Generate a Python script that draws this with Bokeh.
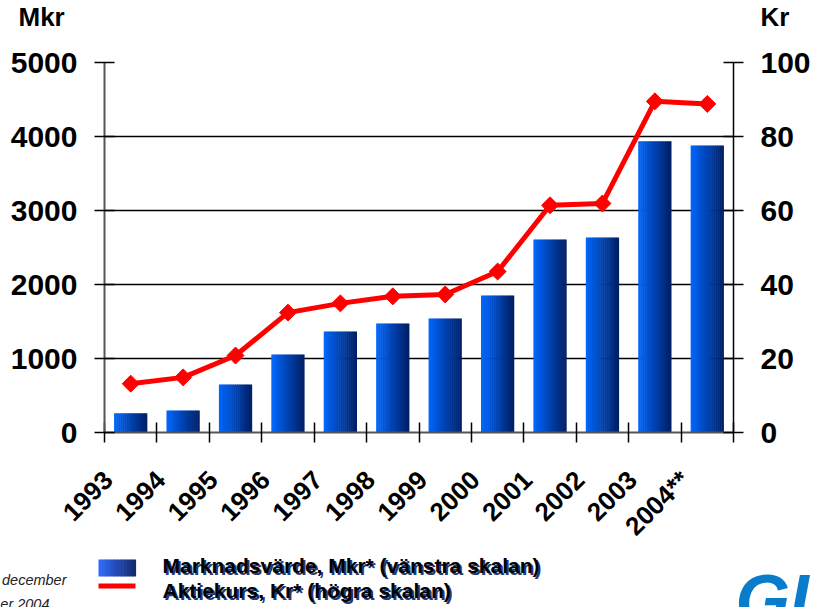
import numpy as np
from bokeh.plotting import figure
from bokeh.layouts import column
from bokeh.models import Range1d, LinearAxis, FixedTicker, CustomJSTickFormatter
from bokeh.core.properties import value
from bokeh.embed import file_html
from bokeh.resources import INLINE

# ---------------- data ----------------
years = ["1993", "1994", "1995", "1996", "1997", "1998", "1999",
         "2000", "2001", "2002", "2003", "2004**"]
market_value_mkr = [261, 297, 649, 1054, 1365, 1473, 1540, 1851, 2608, 2635, 3936, 3878]
share_price_kr = [13.2, 14.9, 20.8, 32.4, 34.9, 36.8, 37.3, 43.5, 61.4, 61.9, 89.5, 88.8]
left_ticks = [0, 1000, 2000, 3000, 4000, 5000]
right_ticks = [0, 20, 40, 60, 80, 100]
left_unit = "Mkr"
right_unit = "Kr"
legend_bar = "Marknadsvärde, Mkr* (vänstra skalan)"
legend_line = "Aktiekurs, Kr* (högra skalan)"
footnote_1 = "december"
footnote_2 = "er 2004"
logo_text = "GU"

FONT = "Liberation Sans"
W = 814
TOP_H = 45          # strip with unit titles
MAIN_H = 509        # chart
BOT_H = 607 - TOP_H - MAIN_H

# frame geometry in page pixels
FR_L, FR_R, FR_T, FR_B = 104, 733, 62, 432


def mid(baseline, size):
    """vertical centre of a text line from its baseline (page pixels)"""
    return baseline - 0.39 * size


def blank(height, y0, y1):
    f = figure(width=W, height=height, x_range=Range1d(0, W), y_range=Range1d(y1, y0),
               output_backend="svg", toolbar_location=None, x_axis_type=None,
               y_axis_type=None, min_border=0, outline_line_color=None,
               background_fill_color="white", border_fill_color="white",
               frame_align=False)
    f.grid.visible = False
    return f


# ---------------- top strip: unit titles ----------------
top = blank(TOP_H, 0, TOP_H)
top.text(x=[18, 760], y=[mid(27, 26)] * 2, text=[left_unit, right_unit],
         text_font=value(FONT), text_font_style="bold", text_font_size="26px",
         text_color="black", text_baseline="middle", text_align="left")

# ---------------- main chart ----------------
p = figure(width=W, height=MAIN_H, x_range=Range1d(0, len(years)), y_range=Range1d(0, 5000),
           output_backend="svg", toolbar_location=None,
           min_border_left=FR_L, min_border_right=W - FR_R,
           min_border_top=FR_T - TOP_H, min_border_bottom=TOP_H + MAIN_H - FR_B,
           outline_line_color=None, background_fill_color="white",
           border_fill_color="white", frame_align=False)
p.extra_y_ranges = {"kr": Range1d(0, 100)}

p.xgrid.visible = False
p.ygrid.ticker = FixedTicker(ticks=left_ticks)
p.ygrid.grid_line_color = "black"
p.ygrid.grid_line_width = 1.5

ya = p.yaxis[0]
ya.ticker = FixedTicker(ticks=left_ticks)
ra = LinearAxis(y_range_name="kr", ticker=FixedTicker(ticks=right_ticks))
p.add_layout(ra, "right")
for ax in (ya, ra):
    ax.major_label_text_font = FONT
    ax.major_label_text_font_style = "bold"
    ax.major_label_text_font_size = "30px"
    ax.major_label_text_color = "black"
    ax.major_tick_in = 10
    ax.major_tick_out = 10
    ax.major_tick_line_color = "black"
    ax.major_tick_line_width = 1.5
    ax.minor_tick_line_color = None
    ax.major_label_standoff = 17
ya.axis_line_color = "#555555"
ya.axis_line_width = 2
ra.axis_line_color = "black"
ra.axis_line_width = 1.5

label_shift = 0.07
xa = p.xaxis[0]
xa.ticker = FixedTicker(ticks=[i + label_shift for i in range(len(years))],
                        minor_ticks=list(range(len(years) + 1)))
xa.formatter = CustomJSTickFormatter(
    args=dict(labels=years),
    code="const i = Math.round(tick); return (i >= 0 && i < labels.length) ? labels[i] : '';")
xa.major_label_orientation = np.pi / 4
xa.major_label_text_font = FONT
xa.major_label_text_font_style = "bold"
xa.major_label_text_font_size = "26px"
xa.major_label_text_color = "black"
xa.major_tick_line_color = None
xa.major_tick_in = 0
xa.major_tick_out = 10
xa.major_label_standoff = 33
xa.minor_tick_in = 10
xa.minor_tick_out = 10
xa.minor_tick_line_color = "black"
xa.minor_tick_line_width = 1.5
xa.axis_line_color = "#555555"
xa.axis_line_width = 2

# bars with a horizontal gradient (drawn as thin strips)
bar_width = 0.625
n_strips = 16
c_left = np.array([0, 104, 255])
c_right = np.array([0, 30, 100])
xs, tops, cols = [], [], []
for k in range(n_strips):
    f = (k + 0.5) / n_strips
    c = (c_left * (1 - f) + c_right * f).astype(int)
    col = "#%02x%02x%02x" % tuple(c)
    for i, v in enumerate(market_value_mkr):
        xs.append(i + 0.5 - bar_width / 2 + (k + 0.5) * bar_width / n_strips)
        tops.append(v)
        cols.append(col)
p.vbar(x=xs, top=tops, bottom=0, width=bar_width / n_strips * 1.25,
       fill_color=cols, line_color=None)

centers = [i + 0.5 for i in range(len(years))]
p.line(x=centers, y=share_price_kr, y_range_name="kr", line_color="#ff0000", line_width=5)
p.scatter(x=centers, y=share_price_kr, y_range_name="kr", marker="square",
          angle=np.pi / 4, size=12, fill_color="#ff0000", line_color="#ff0000")

# ---------------- bottom strip: legend, notes, logo ----------------
Y0 = TOP_H + MAIN_H
bot = blank(BOT_H, Y0, 607)

n_leg = 12
lefts, rights, lcols = [], [], []
for k in range(n_leg):
    f = (k + 0.5) / n_leg
    c = (np.array([50, 110, 255]) * (1 - f) + np.array([20, 40, 110]) * f).astype(int)
    lefts.append(98 + k * 37 / n_leg)
    rights.append(98 + (k + 1) * 37 / n_leg + 0.6)
    lcols.append("#%02x%02x%02x" % tuple(c))
bot.quad(left=lefts, right=rights, top=[559] * n_leg, bottom=[576] * n_leg,
         fill_color=lcols, line_color=None)
bot.quad(left=[98], right=[135], top=[583], bottom=[588], fill_color="#ff0000",
         line_color=None)

for dx, color in ((2, "#1f3a7a"), (0, "black")):
    bot.text(x=[162 + dx, 162 + dx], y=[mid(573, 21) + dx, mid(598, 21) + dx],
             text=[legend_bar, legend_line],
             text_font=value(FONT), text_font_style="bold", text_font_size="21px",
             text_color=color, text_baseline="middle", text_align="left")

bot.text(x=[66, 49], y=[mid(585, 14.5), mid(609, 14.5)], text=[footnote_1, footnote_2],
         text_font=value(FONT), text_font_style="italic", text_font_size="14.5px",
         text_color="#222222", text_baseline="middle", text_align="right")

bot.text(x=[735], y=[mid(627, 70)], text=[logo_text], text_font=value(FONT),
         text_font_style="bold italic", text_font_size="70px", text_color="#0a7ccc",
         text_baseline="middle", text_align="left")

layout = column(top, p, bot, spacing=0)
open("out.html", "w").write(file_html(layout, INLINE))
